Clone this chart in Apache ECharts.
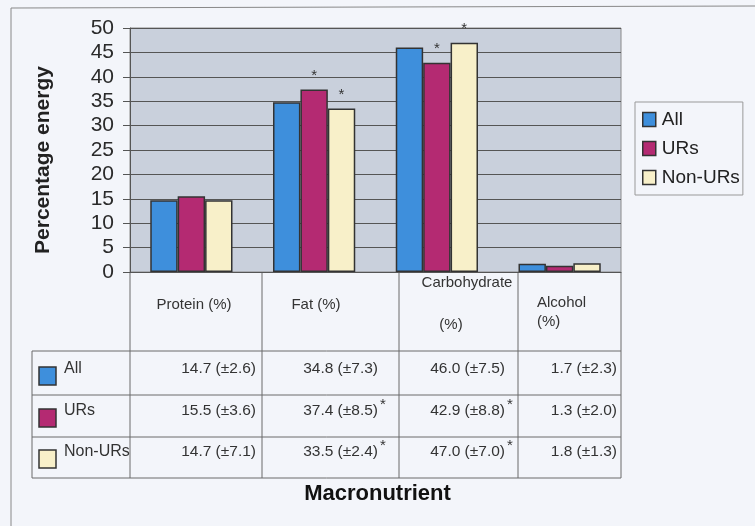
<!DOCTYPE html>
<html lang="en">
<head>
  <meta charset="UTF-8">
  <title>Percentage energy by macronutrient</title>
  <script src="https://cdn.jsdelivr.net/npm/echarts@6/dist/echarts.min.js"></script>
  <style>
    html, body { margin: 0; padding: 0; background: #f3f5fa; }
    #chart { width: 755px; height: 526px; }
  </style>
</head>
<body>
  <div id="chart"></div>
<script>
  // data
  var categories = ['Protein (%)', 'Fat (%)', 'Carbohydrate (%)', 'Alcohol (%)']
  var groups = ['All', 'URs', 'Non-URs']
  var allMean = [14.7, 34.8, 46.0, 1.7]
  var allSd = [2.6, 7.3, 7.5, 2.3]
  var urMean = [15.5, 37.4, 42.9, 1.3]
  var urSd = [3.6, 8.5, 8.8, 2.0]
  var nonMean = [14.7, 33.5, 47.0, 1.8]
  var nonSd = [7.1, 2.4, 7.0, 1.3]
  var allSig = [false, false, false, false]
  var urSig = [false, true, true, false]
  var nonSig = [false, true, true, false]
  var yTicks = [0, 5, 10, 15, 20, 25, 30, 35, 40, 45, 50]

  var colors = ['#3e8fdc', '#b42a72', '#f8f0c9']
  var means = [allMean, urMean, nonMean]
  var sds = [allSd, urSd, nonSd]
  var sigs = [allSig, urSig, nonSig]

  // table layout (px)
  var colX = [130, 262, 399, 518, 621]
  var rowY = [351, 395, 437, 478]
  var rowMid = [371, 413, 454]
  var valueRight = [256, 378, 505, 617]
  var tableLeft = 32
  var axisY = 272
  var font = 'Arial, "Liberation Sans", sans-serif'
  var lineStyle = { stroke: '#6b6b6b', lineWidth: 1 }

  var graphic = []
  function line(x1, y1, x2, y2, st) {
    graphic.push({ type: 'line', silent: true, shape: { x1: x1, y1: y1, x2: x2, y2: y2 }, style: st || lineStyle })
  }
  function text(str, x, y, opt, extra) {
    graphic.push(Object.assign({
      type: 'text', silent: true,
      style: Object.assign({ text: str, x: x, y: y, fill: '#333', fontSize: 15, fontFamily: font, align: 'left', verticalAlign: 'middle' }, opt || {})
    }, extra || {}))
  }

  // outer frame of the chart area
  line(11, 8, 755, 6, { stroke: '#888', lineWidth: 1 })
  line(11, 8, 11, 526, { stroke: '#888', lineWidth: 1 })

  // y axis title, sits a bit below the plot centre like the original
  text('Percentage energy', 0, 0,
    { align: 'center', fontSize: 21, fontWeight: 'bold', fill: '#222' },
    { x: 43, y: 160, rotation: Math.PI / 2 })

  // table grid
  colX.forEach(function (x) { line(x, axisY, x, rowY[3]) })
  line(tableLeft, rowY[0], tableLeft, rowY[3])
  rowY.forEach(function (y) { line(tableLeft, y, colX[4], y) })

  // header row: category names
  text('Protein (%)', 194, 305, { align: 'center' })
  text('Fat (%)', 316, 305, { align: 'center' })
  text('Carbohydrate', 467, 283, { align: 'center' })
  text('(%)', 451, 325, { align: 'center' })
  text('Alcohol', 537, 303)
  text('(%)', 537, 322)

  // body rows
  groups.forEach(function (g, r) {
    graphic.push({
      type: 'rect', silent: true,
      shape: { x: 39, y: rowMid[r] - 4, width: 17, height: 18 },
      style: { fill: colors[r], stroke: '#333', lineWidth: 1.5 }
    })
    text(g, 64, rowMid[r] - 2, { fontSize: 16 })
    categories.forEach(function (c, i) {
      var s = means[r][i].toFixed(1) + ' (\u00b1' + sds[r][i].toFixed(1) + ')'
      text(s, valueRight[i], rowMid[r] - 2, { align: 'right', fontSize: 15.5 })
      if (sigs[r][i]) text('*', valueRight[i] + 2, rowMid[r] - 8, { fontSize: 15 })
    })
  })

  var series = groups.map(function (g, k) {
    return {
      name: g,
      type: 'bar',
      barGap: '0%',
      barCategoryGap: '33%',
      data: means[k].map(function (v, i) {
        return { value: v, label: { show: sigs[k][i] } }
      }),
      itemStyle: { color: colors[k], borderColor: '#333', borderWidth: 1.5 },
      label: {
        position: 'top', distance: 6, formatter: '*',
        color: '#333', fontSize: 15, fontFamily: font
      }
    }
  })

  var chart = echarts.init(document.getElementById('chart'))
  chart.setOption({
    animation: false,
    backgroundColor: '#f3f5fa',
    title: {
      text: 'Macronutrient',
      left: 'center',
      top: 478,
      textStyle: { fontSize: 22, fontWeight: 'bold', color: '#111', fontFamily: font }
    },
    legend: {
      orient: 'vertical',
      left: 635,
      top: 102,
      itemWidth: 13,
      itemHeight: 14,
      itemGap: 10,
      padding: [8, 3, 8, 7],
      borderColor: '#999',
      borderWidth: 1,
      icon: 'rect',
      itemStyle: { borderColor: '#333', borderWidth: 1.5 },
      textStyle: { fontSize: 19, color: '#222', fontFamily: font, padding: [0, 0, 0, 1] },
      data: groups
    },
    grid: {
      left: 130, right: 134, top: 28, bottom: 254,
      show: true, backgroundColor: '#c9d0dc', borderColor: '#8a8a8a', borderWidth: 1
    },
    xAxis: {
      type: 'category',
      data: categories,
      axisLine: { lineStyle: { color: '#555' } },
      axisTick: { show: false },
      axisLabel: { show: false }
    },
    yAxis: {
      type: 'value',
      min: yTicks[0],
      max: yTicks[yTicks.length - 1],
      interval: yTicks[1] - yTicks[0],
      axisLine: { show: true, lineStyle: { color: '#555' } },
      axisTick: { show: true, inside: false, length: 7, lineStyle: { color: '#555' } },
      axisLabel: { fontSize: 21, color: '#2a2a2a', margin: 16, fontFamily: font },
      splitLine: { lineStyle: { color: '#555', width: 1 } }
    },
    graphic: graphic,
    series: series
  })
</script>
</body>
</html>
